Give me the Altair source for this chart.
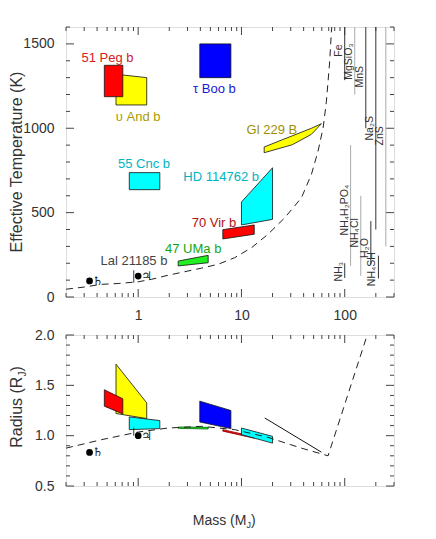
import altair as alt
import pandas as pd

FONT = "Liberation Sans, DejaVu Sans, sans-serif"
SYM_FONT = "DejaVu Sans"
FRAME = "#444444"
W, H1, H2 = 328, 270, 151

MASS_DOMAIN = [0.2, 300]
TEFF_DOMAIN = [0, 1600]
RAD_DOMAIN = [0.5, 2.0]

# ---------------- planets drawn as shapes (draw order) ----------------
shape_names = ["υ And b", "51 Peg b", "55 Cnc b", "47 UMa b", "τ Boo b", "70 Vir b", "HD 114762 b"]
shape_fill = ["#ffff00", "#ff0000", "#00ffff", "#22ee22", "#0000ff", "#ff0000", "#00ffff"]
shape_stroke_t = ["#111111"] * 7
shape_stroke_r = ["#111111", "#111111", "#111111", "#006600", "#111111", "#880000", "#111111"]
shape_mass_lo = [0.61, 0.47, 0.82, 2.44, 3.95, 6.6, 10.0]
shape_mass_hi = [1.21, 0.71, 1.62, 4.76, 7.9, 13.3, 20.0]
# effective temperature: upper / lower edges at low and high mass
teff_top_lo = [1320, 1373, 737, 213, 1500, 399, 563]
teff_top_hi = [1300, 1373, 737, 247, 1500, 427, 766]
teff_bot_lo = [1138, 1187, 636, 184, 1300, 344, 427]
teff_bot_hi = [1138, 1187, 636, 203, 1300, 372, 460]
# radius: upper / lower edges at low and high mass
rad_top_lo = [1.71, 1.456, 1.186, 1.086, 1.343, 1.06, 1.076]
rad_top_hi = [1.326, 1.366, 1.15, 1.083, 1.25, 0.99, 0.993]
rad_bot_lo = [1.22, 1.293, 1.06, 1.073, 1.136, 1.045, 1.01]
rad_bot_hi = [1.17, 1.216, 1.07, 1.066, 1.07, 0.975, 0.926]

# Gl 229 B
gl229_mass = [16.6, 31, 47.6, 59.5]
gl229_teff_top = [889, 955, 1000, 1027]
gl229_teff_bot = [855, 902, 964, 1027]
gl229_rad_mass = [16.8, 59.5]
gl229_rad = [1.176, 0.836]

# Lal 21185 b
lal_mass = [0.906, 0.906]
lal_teff = [85, 158]
lal_rad = [1.0, 1.08]

# planet labels
label_names = ["51 Peg b", "υ And b", "τ Boo b", "55 Cnc b", "HD 114762 b", "70 Vir b", "47 UMa b", "Lal 21185 b", "Gl 229 B"]
label_mass = [0.504, 1.0, 5.48, 1.14, 6.36, 5.42, 3.41, 0.91, 19.7]
label_teff = [1416, 1067, 1234, 786, 713, 440, 283, 213, 990]
label_color = ["#d42020", "#a89c00", "#1a1ad0", "#00b4c0", "#00b4c0", "#b01010", "#10a810", "#444444", "#a09000"]

# solar system
sol_symbols = ["♄", "♃"]
sol_mass = [0.338, 1.0]
sol_teff = [95, 124]
sol_rad = [0.833, 1.0]

# dashed model curves
curve_t_mass = [0.2, 0.3, 0.44, 0.64, 1.0, 1.35, 1.95, 2.83, 4.1, 5.95, 8.6, 12.5, 18.1, 26.3, 38.1, 47.6, 55.2, 61.8, 66.5, 71.6, 74.3, 75]
curve_t_teff = [46, 59, 75, 80, 90, 105, 129, 150, 171, 194, 233, 292, 372, 470, 588, 727, 865, 1003, 1161, 1399, 1576, 1600]
curve_r_mass = [0.2, 0.44, 1.0, 1.95, 4.1, 8.6, 18.1, 38.1, 69, 165]
curve_r_rad = [0.876, 0.96, 1.036, 1.076, 1.093, 1.06, 0.983, 0.876, 0.80, 2.0]

# condensation lines
cond_names = ["Fe", "MgSiO₃", "MnS", "Na₂S", "ZnS", "NH₄H₂PO₄", "NH₄Cl", "H₂O", "NH₃", "NH₄SH"]
cond_mass = [100, 125, 160, 200, 250, 114, 143, 179, 100, 212]
cond_top = [1600, 1600, 1600, 1600, 1600, 900, 600, 450, 200, 245]
cond_bot = [1285, 1200, 1000, 400, 300, 185, 125, 195, 113, 110]
cond_label_teff = [1460, 1395, 1305, 1000, 955, 515, 380, 290, 150, 165]
cond_color = ["#333333", "#aaaaaa", "#333333", "#333333", "#aaaaaa", "#aaaaaa", "#aaaaaa", "#333333", "#333333", "#333333"]

# ticks
mass_major = [1, 10, 100]
mass_minor = [0.2, 0.3, 0.4, 0.5, 0.6, 0.7, 0.8, 0.9, 2, 3, 4, 5, 6, 7, 8, 9,
              20, 30, 40, 50, 60, 70, 80, 90, 200, 300]
teff_major = [0, 500, 1000, 1500]
teff_minor = [100, 200, 300, 400, 600, 700, 800, 900, 1100, 1200, 1300, 1400, 1600]
rad_major = [0.5, 1.0, 1.5, 2.0]
rad_minor = [0.6, 0.7, 0.8, 0.9, 1.1, 1.2, 1.3, 1.4, 1.6, 1.7, 1.8, 1.9]

x_axis_top = alt.Axis(values=mass_major, format="d", ticks=False, tickSize=0, domain=False, grid=False,
                      labelPadding=11, labelFont=FONT, labelFontSize=14, labelColor="#333333",
                      labelFlush=False, title=None)
x_axis_bot = alt.Axis(values=mass_major, labels=False, ticks=False, tickSize=0, domain=False, grid=False,
                      title=None)
y_axis_top = alt.Axis(values=teff_major, format="d", ticks=False, tickSize=0, domain=False, grid=False,
                      labelPadding=12, labelFont=FONT, labelFontSize=14, labelColor="#333333", title=None)
y_axis_bot = alt.Axis(values=rad_major, format=".1f", ticks=False, tickSize=0, domain=False, grid=False,
                      labelPadding=12, labelFont=FONT, labelFontSize=14, labelColor="#333333", title=None)

MSCALE = alt.Scale(type="log", domain=MASS_DOMAIN)


def mx_top(field="m"):
    return alt.X(f"{field}:Q", scale=MSCALE, axis=x_axis_top)


def mx_bot(field="m"):
    return alt.X(f"{field}:Q", scale=MSCALE, axis=x_axis_bot)


def ty(field):
    return alt.Y(f"{field}:Q", scale=alt.Scale(domain=TEFF_DOMAIN), axis=y_axis_top)


def ry(field):
    return alt.Y(f"{field}:Q", scale=alt.Scale(domain=RAD_DOMAIN), axis=y_axis_bot)


def shape_layers(xf, yf, top_lo, top_hi, bot_lo, bot_hi, strokes):
    out = []
    for i in range(len(shape_names)):
        df = pd.DataFrame({"m": [shape_mass_lo[i], shape_mass_hi[i]],
                           "top": [top_lo[i], top_hi[i]],
                           "bot": [bot_lo[i], bot_hi[i]]})
        out.append(alt.Chart(df).mark_area(fill=shape_fill[i], stroke=strokes[i], strokeWidth=0.8,
                                           opacity=1, interpolate="linear")
                   .encode(x=xf("m"), y=yf("top"), y2=alt.Y2("bot:Q")))
    return out


def tick_layers(xf, yf, ymaj, ymin, H):
    out = []
    for vals, ln in [(mass_major, 8), (mass_minor, 4)]:
        df = pd.DataFrame({"v": vals})
        out.append(alt.Chart(df).mark_rule(color=FRAME, strokeWidth=1)
                   .encode(x=xf("v"), y=alt.value(H), y2=alt.value(H - ln)))
        out.append(alt.Chart(df).mark_rule(color=FRAME, strokeWidth=1)
                   .encode(x=xf("v"), y=alt.value(0), y2=alt.value(ln)))
    for vals, ln in [(ymaj, 8), (ymin, 4)]:
        df = pd.DataFrame({"v": vals})
        out.append(alt.Chart(df).mark_rule(color=FRAME, strokeWidth=1)
                   .encode(y=yf("v"), x=alt.value(0), x2=alt.value(ln)))
        out.append(alt.Chart(df).mark_rule(color=FRAME, strokeWidth=1)
                   .encode(y=yf("v"), x=alt.value(W), x2=alt.value(W - ln)))
    return out


def text_layer(s, **kw):
    return alt.Chart(pd.DataFrame({"s": [s]})).mark_text(font=FONT, color="#333333", **kw)


# ---------------- top panel ----------------
top_layers = []
top_layers += tick_layers(mx_top, ty, teff_major, teff_minor, H1)
top_layers += shape_layers(mx_top, ty, teff_top_lo, teff_top_hi, teff_bot_lo, teff_bot_hi, shape_stroke_t)
top_layers.append(alt.Chart(pd.DataFrame({"m": gl229_mass, "top": gl229_teff_top, "bot": gl229_teff_bot}))
                  .mark_area(fill="#ffff00", stroke="#111111", strokeWidth=0.8, opacity=1)
                  .encode(x=mx_top(), y=ty("top"), y2=alt.Y2("bot:Q")))
top_layers.append(alt.Chart(pd.DataFrame({"m": curve_t_mass, "t": curve_t_teff,
                                          "o": list(range(len(curve_t_mass)))}))
                  .mark_line(color="#222222", strokeWidth=1, strokeDash=[7, 5], clip=True)
                  .encode(x=mx_top(), y=ty("t"), order="o:Q"))
cond_df = pd.DataFrame({"m": cond_mass, "t1": cond_top, "t2": cond_bot, "c": cond_color,
                        "name": cond_names, "lt": cond_label_teff})
top_layers.append(alt.Chart(cond_df).mark_rule(strokeWidth=1)
                  .encode(x=mx_top(), y=ty("t1"), y2=alt.Y2("t2:Q"), color=alt.Color("c:N", scale=None)))
top_layers.append(alt.Chart(cond_df).mark_text(angle=270, align="center", baseline="bottom", dy=-1,
                                               font=FONT, fontSize=10.5, color="#333333")
                  .encode(x=mx_top(), y=ty("lt"), text="name:N"))
top_layers.append(alt.Chart(pd.DataFrame({"m": lal_mass, "t": lal_teff}))
                  .mark_line(color="#333333", strokeWidth=1)
                  .encode(x=mx_top(), y=ty("t")))
top_layers.append(alt.Chart(pd.DataFrame({"name": label_names, "m": label_mass, "t": label_teff,
                                          "c": label_color}))
                  .mark_text(font=FONT, fontSize=13, align="center", baseline="middle")
                  .encode(x=mx_top(), y=ty("t"), text="name:N", color=alt.Color("c:N", scale=None)))
sol_t = pd.DataFrame({"s": sol_symbols, "m": sol_mass, "t": sol_teff})
top_layers.append(alt.Chart(sol_t).mark_circle(size=45, color="#000000", opacity=1)
                  .encode(x=mx_top(), y=ty("t")))
top_layers.append(alt.Chart(sol_t).mark_text(font=SYM_FONT, fontSize=12, align="left", baseline="middle",
                                             dx=3, color="#222222")
                  .encode(x=mx_top(), y=ty("t"), text="s:N"))
top_layers.append(text_layer("Effective Temperature (K)", angle=270, align="center", baseline="bottom",
                             fontSize=16)
                  .encode(text="s:N", x=alt.value(-41), y=alt.value(H1 / 2)))

top = alt.layer(*top_layers).properties(width=W, height=H1)

# ---------------- bottom panel ----------------
bot_layers = []
bot_layers += tick_layers(mx_bot, ry, rad_major, rad_minor, H2)
bot_layers += shape_layers(mx_bot, ry, rad_top_lo, rad_top_hi, rad_bot_lo, rad_bot_hi, shape_stroke_r)
bot_layers.append(alt.Chart(pd.DataFrame({"m": gl229_rad_mass, "r": gl229_rad}))
                  .mark_line(color="#111111", strokeWidth=1)
                  .encode(x=mx_bot(), y=ry("r")))
bot_layers.append(alt.Chart(pd.DataFrame({"m": curve_r_mass, "r": curve_r_rad,
                                          "o": list(range(len(curve_r_mass)))}))
                  .mark_line(color="#222222", strokeWidth=1, strokeDash=[7, 5], clip=True)
                  .encode(x=mx_bot(), y=ry("r"), order="o:Q"))
bot_layers.append(alt.Chart(pd.DataFrame({"m": lal_mass, "r": lal_rad}))
                  .mark_line(color="#333333", strokeWidth=1)
                  .encode(x=mx_bot(), y=ry("r")))
sol_r = pd.DataFrame({"s": sol_symbols, "m": sol_mass, "r": sol_rad})
bot_layers.append(alt.Chart(sol_r).mark_circle(size=45, color="#000000", opacity=1)
                  .encode(x=mx_bot(), y=ry("r")))
bot_layers.append(alt.Chart(sol_r).mark_text(font=SYM_FONT, fontSize=12, align="left", baseline="middle",
                                             dx=3, color="#222222")
                  .encode(x=mx_bot(), y=ry("r"), text="s:N"))

Y0 = 41.6
bot_layers.append(text_layer("Radius (R", angle=270, align="right", baseline="bottom", fontSize=16)
                  .encode(text="s:N", x=alt.value(-41), y=alt.value(Y0)))
bot_layers.append(text_layer("J", angle=270, align="left", baseline="bottom", fontSize=10, dy=3)
                  .encode(text="s:N", x=alt.value(-41), y=alt.value(Y0)))
bot_layers.append(text_layer(")", angle=270, align="left", baseline="bottom", fontSize=16)
                  .encode(text="s:N", x=alt.value(-41), y=alt.value(Y0 - 5)))

X0 = 180.4
bot_layers.append(text_layer("Mass (M", align="right", baseline="middle", fontSize=14)
                  .encode(text="s:N", x=alt.value(X0), y=alt.value(186)))
bot_layers.append(text_layer("J", align="left", baseline="middle", fontSize=9, dy=4)
                  .encode(text="s:N", x=alt.value(X0), y=alt.value(186)))
bot_layers.append(text_layer(")", align="left", baseline="middle", fontSize=14)
                  .encode(text="s:N", x=alt.value(X0 + 4.5), y=alt.value(186)))

bottom = alt.layer(*bot_layers).properties(width=W, height=H2)

chart = (alt.vconcat(top, bottom, spacing=38, bounds="flush")
         .properties(padding={"left": 0, "top": 18, "right": 0, "bottom": 0})
         .configure_view(stroke=FRAME, strokeWidth=1)
         .configure(background="white"))

chart.save("out.html", embed_options={"renderer": "svg", "actions": False})
